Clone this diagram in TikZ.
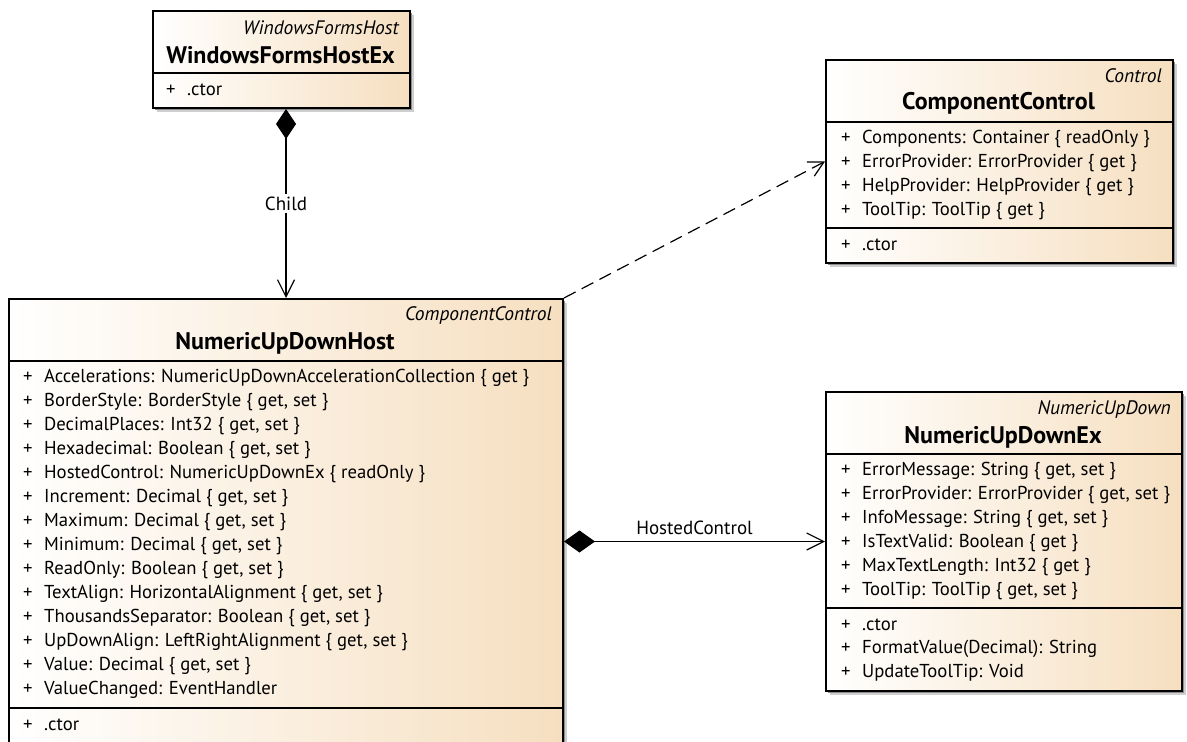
\documentclass[tikz,border=0pt]{standalone}
\usepackage{fontspec}
\setmainfont{PT Sans}
\usetikzlibrary{arrows.meta}
\definecolor{umltan}{HTML}{F6DFC0}
\definecolor{shadowdark}{HTML}{8C8C8C}
\definecolor{shadowsoft}{HTML}{CFCFCF}

\tikzset{
  classframe/.style={draw=black, line width=2pt, left color=white, right color=umltan,
    anchor=north west, inner sep=0pt},
  stereotype/.style={anchor=east, inner sep=0pt, font=\fontsize{19.5}{22}\selectfont\itshape},
  classname/.style={inner sep=0pt, font=\fontsize{24}{26}\selectfont\bfseries},
  member/.style={anchor=west, inner sep=0pt, font=\fontsize{18.7}{22}\selectfont},
  divider/.style={line width=2pt},
  assoc/.style={line width=1.2pt},
  connlabel/.style={font=\fontsize{19}{22}\selectfont},
}

\begin{document}
\begin{tikzpicture}[x=1pt,y=-1pt]
\useasboundingbox (0,0) rectangle (1187,742);
\clip (0,0) rectangle (1187,742);
\def\rowh{24}

% WindowsFormsHostEx
\fill[shadowsoft] (157,15) rectangle ++(257,97);
\fill[shadowdark] (155,13) rectangle ++(257,97);
\node[classframe, minimum width=257pt, minimum height=97pt] (wfhex) at (152,10) {};
\node[stereotype] at (399,28) {WindowsFormsHost};
\node[classname] at (280.5,55) {WindowsFormsHostEx};
\draw[divider] (152,73) -- ++(257,0);
\node[member] at (166,90) {\makebox[21pt][l]{+}.ctor};

% ComponentControl
\fill[shadowsoft] (830,64) rectangle ++(347,203);
\fill[shadowdark] (828,62) rectangle ++(347,203);
\node[classframe, minimum width=347pt, minimum height=203pt] (compctl) at (825,59) {};
\node[stereotype] at (1162,76) {Control};
\node[classname] at (998.5,103) {ComponentControl};
\draw[divider] (825,122) -- ++(347,0);
\foreach [count=\i] \m in {{Components: Container \{ readOnly \}},
                           {ErrorProvider: ErrorProvider \{ get \}},
                           {HelpProvider: HelpProvider \{ get \}},
                           {ToolTip: ToolTip \{ get \}}}
  \node[member] at (841,{122+17+(\i-1)*\rowh}) {\makebox[21pt][l]{+}\m};
\draw[divider] (825,228) -- ++(347,0);
\node[member] at (841,245) {\makebox[21pt][l]{+}.ctor};

% NumericUpDownHost
\fill[shadowsoft] (13,303) rectangle ++(554,470);
\fill[shadowdark] (11,301) rectangle ++(554,470);
\node[classframe, minimum width=554pt, minimum height=470pt] (nudhost) at (8,298) {};
\node[stereotype] at (552,316) {ComponentControl};
\node[classname] at (285,343) {NumericUpDownHost};
\draw[divider] (8,361) -- ++(554,0);
\foreach [count=\i] \m in {{Accelerations: NumericUpDownAccelerationCollection \{ get \}},
                           {BorderStyle: BorderStyle \{ get, set \}},
                           {DecimalPlaces: Int32 \{ get, set \}},
                           {Hexadecimal: Boolean \{ get, set \}},
                           {HostedControl: NumericUpDownEx \{ readOnly \}},
                           {Increment: Decimal \{ get, set \}},
                           {Maximum: Decimal \{ get, set \}},
                           {Minimum: Decimal \{ get, set \}},
                           {ReadOnly: Boolean \{ get, set \}},
                           {TextAlign: HorizontalAlignment \{ get, set \}},
                           {ThousandsSeparator: Boolean \{ get, set \}},
                           {UpDownAlign: LeftRightAlignment \{ get, set \}},
                           {Value: Decimal \{ get, set \}},
                           {ValueChanged: EventHandler}}
  \node[member] at (23,{361+17+(\i-1)*\rowh}) {\makebox[21pt][l]{+}\m};
\draw[divider] (8,708) -- ++(554,0);
\node[member] at (23,725) {\makebox[21pt][l]{+}.ctor};

% NumericUpDownEx
\fill[shadowsoft] (830,396) rectangle ++(356,299);
\fill[shadowdark] (828,394) rectangle ++(356,299);
\node[classframe, minimum width=356pt, minimum height=299pt] (nudex) at (825,391) {};
\node[stereotype] at (1171,410) {NumericUpDown};
\node[classname] at (1003,437) {NumericUpDownEx};
\draw[divider] (825,454) -- ++(356,0);
\foreach [count=\i] \m in {{ErrorMessage: String \{ get, set \}},
                           {ErrorProvider: ErrorProvider \{ get, set \}},
                           {InfoMessage: String \{ get, set \}},
                           {IsTextValid: Boolean \{ get \}},
                           {MaxTextLength: Int32 \{ get \}},
                           {ToolTip: ToolTip \{ get, set \}}}
  \node[member] at (841,{454+17+(\i-1)*\rowh}) {\makebox[21pt][l]{+}\m};
\draw[divider] (825,608) -- ++(356,0);
\foreach [count=\i] \m in {.ctor, FormatValue(Decimal): String, UpdateToolTip: Void}
  \node[member] at (841,{608+17+(\i-1)*\rowh}) {\makebox[21pt][l]{+}\m};

% Child composition
\draw[assoc, {Diamond[length=30pt,width=20pt]}-{Straight Barb[length=17pt,width=17pt]}]
  (nudhost.north |- wfhex.south) -- node[connlabel, fill=white, inner sep=3pt] (childlbl) {Child} (nudhost.north);

% Dependency on ComponentControl
\draw[assoc, dash pattern=on 13pt off 7pt, -{Straight Barb[length=15pt,width=16pt]}]
  (nudhost.north east) -- (compctl.west);

% HostedControl composition
\draw[assoc, {Diamond[length=31pt,width=22pt]}-{Straight Barb[length=17pt,width=17pt]}]
  (nudex.west -| nudhost.east) -- node[connlabel, above=3pt] (hostlbl) {HostedControl} (nudex.west);
\end{tikzpicture}
\end{document}
